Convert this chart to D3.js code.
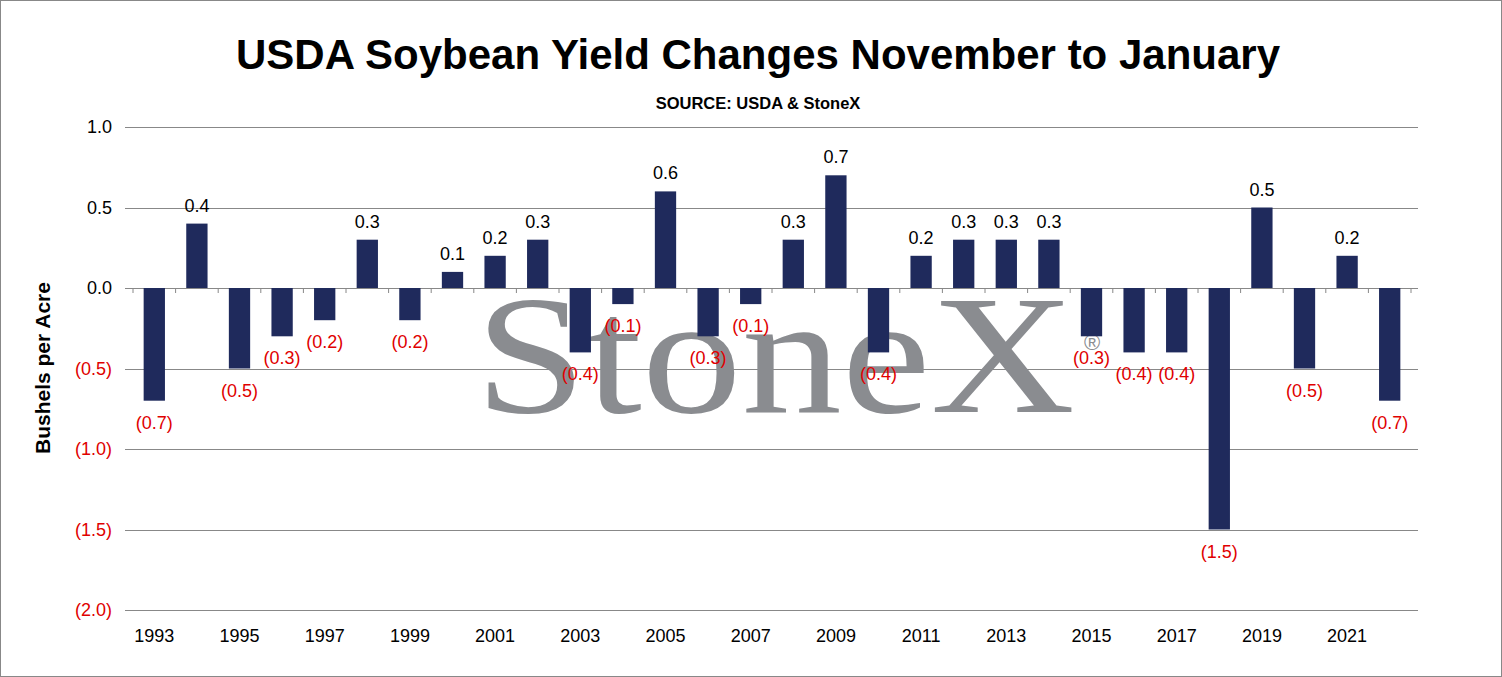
<!DOCTYPE html>
<html><head><meta charset="utf-8">
<script src="https://cdn.jsdelivr.net/npm/d3@7"></script>
<style>body{margin:0;background:#fff}svg{display:block}</style>
</head><body>
<svg id="c" width="1502" height="677"></svg>
<script>
var years = d3.range(1993, 2023);
var changes = [-0.7,0.4,-0.5,-0.3,-0.2,0.3,-0.2,0.1,0.2,0.3,-0.4,-0.1,0.6,-0.3,-0.1,0.3,0.7,-0.4,0.2,0.3,0.3,0.3,-0.3,-0.4,-0.4,-1.5,0.5,-0.5,0.2,-0.7];
var yTicks = [1.0,0.5,0.0,-0.5,-1.0,-1.5,-2.0];

var svg = d3.select("#c");
var font = "Arial, 'Liberation Sans', sans-serif";
svg.append("rect").attr("x",0.5).attr("y",0.5).attr("width",1501).attr("height",676).attr("fill","#fff").attr("stroke","#888");

var x = d3.scaleBand().domain(years).range([133,1411]).paddingInner(0.5).paddingOuter(0.25);
var y = d3.scaleLinear().domain([-2,1]).range([610,127]);
function fmt(v){ return v < 0 ? "(" + Math.abs(v).toFixed(1) + ")" : v.toFixed(1); }

svg.append("text").attr("x",758).attr("y",69).attr("text-anchor","middle").attr("font-family",font).attr("font-weight","bold").attr("font-size",42).text("USDA Soybean Yield Changes November to January");
svg.append("text").attr("x",758).attr("y",109).attr("text-anchor","middle").attr("font-family",font).attr("font-weight","bold").attr("font-size",16.5).text("SOURCE: USDA & StoneX");

// gridlines
svg.append("g").selectAll("line").data(yTicks).join("line")
  .attr("x1",125).attr("x2",1418).attr("y1",d=>Math.round(y(d))+0.5).attr("y2",d=>Math.round(y(d))+0.5)
  .attr("stroke","#888").attr("stroke-width",1);

// y labels
svg.append("g").selectAll("text").data(yTicks).join("text")
  .attr("x",112).attr("y",d=>y(d)+6).attr("text-anchor","end").attr("font-family",font).attr("font-size",18)
  .attr("fill",d=>d<0?"#e00000":"#000").text(fmt);

svg.append("text").attr("transform","translate(50,368) rotate(-90)").attr("text-anchor","middle")
  .attr("font-family",font).attr("font-weight","bold").attr("font-size",21).text("Bushels per Acre");

// watermark (behind bars)
svg.append("text").attr("x",775).attr("y",412).attr("text-anchor","middle")
  .attr("font-family","'Liberation Serif','DejaVu Serif',serif").attr("font-size",170).attr("fill","#8a8c90")
  .attr("textLength",600).attr("lengthAdjust","spacingAndGlyphs").text("StoneX");
svg.append("text").attr("x",1092).attr("y",350).attr("text-anchor","middle").attr("font-family",font).attr("font-size",22).attr("fill","#8a8c90").text("®");

// bars
svg.append("g").selectAll("rect").data(changes).join("rect")
  .attr("x",(d,i)=>x(years[i])).attr("width",x.bandwidth())
  .attr("y",d=>y(Math.max(0,d))).attr("height",d=>Math.abs(y(d)-y(0)))
  .attr("fill","#1f2a5c");

// zero-line category ticks
var step = x.step();
svg.append("g").selectAll("line").data(d3.range(31)).join("line")
  .attr("x1",i=>133+i*step).attr("x2",i=>133+i*step).attr("y1",y(0)).attr("y2",y(0)+5)
  .attr("stroke","#888");

// value labels
svg.append("g").selectAll("text").data(changes).join("text")
  .attr("x",(d,i)=>x(years[i])+x.bandwidth()/2)
  .attr("y",d=>d>=0? y(d)-12 : y(d)+28)
  .attr("text-anchor","middle").attr("font-family",font).attr("font-size",18)
  .attr("fill",d=>d<0?"#e00000":"#000").text(fmt);

// x labels
svg.append("g").selectAll("text").data(years.filter(v=>v%2===1)).join("text")
  .attr("x",d=>x(d)+x.bandwidth()/2).attr("y",642).attr("text-anchor","middle")
  .attr("font-family",font).attr("font-size",18).text(d=>d);
</script>
</body></html>
